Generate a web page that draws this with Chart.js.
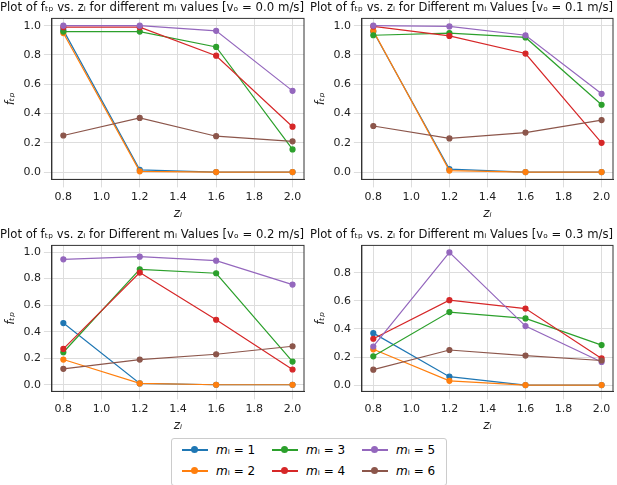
<!DOCTYPE html>
<html><head><meta charset="utf-8">
<script src="https://cdn.jsdelivr.net/npm/chart.js@4.4.0/dist/chart.umd.min.js"></script>
<style>
body{margin:0;background:#fff;width:617px;height:485px;position:relative;overflow:hidden;font-family:"DejaVu Sans";}
.c{position:absolute;}
#legend{position:absolute;left:171px;top:438px;width:274px;height:46px;border:1px solid #ccc;border-radius:3px;font-size:12px;}
.it{position:absolute;display:flex;align-items:center;}
.sw{width:26px;height:2px;position:relative;margin-right:8px;}
.sw i{position:absolute;left:9px;top:-3px;width:7px;height:7px;border-radius:50%;}
</style></head><body>
<div class="c" style="left:0;top:0;width:310px;height:225px"><canvas id="c0"></canvas></div>
<div class="c" style="left:310px;top:0;width:307px;height:225px"><canvas id="c1"></canvas></div>
<div class="c" style="left:0;top:227px;width:310px;height:210px"><canvas id="c2"></canvas></div>
<div class="c" style="left:310px;top:227px;width:307px;height:210px"><canvas id="c3"></canvas></div>
<div id="legend"></div>
<script>
const zi=[0.8,1.2,1.6,2.0];
const xTicks=[0.8,1.0,1.2,1.4,1.6,1.8,2.0];
const labels=['m\u1D62 = 1','m\u1D62 = 2','m\u1D62 = 3','m\u1D62 = 4','m\u1D62 = 5','m\u1D62 = 6'];
const colors=['#1f77b4','#ff7f0e','#2ca02c','#d62728','#9467bd','#8c564b'];
const v00=[[0.97,0.015,0,0],[0.95,0.005,0,0],[0.96,0.96,0.855,0.155],[0.99,0.99,0.795,0.31],[1.0,1.0,0.965,0.555],[0.25,0.37,0.245,0.21]];
const v01=[[0.96,0.02,0,0],[0.965,0.01,0,0],[0.935,0.95,0.92,0.46],[0.995,0.93,0.81,0.2],[1.0,0.995,0.935,0.535],[0.315,0.23,0.27,0.355]];
const v02=[[0.465,0.01,0,0],[0.19,0.01,0,0],[0.245,0.87,0.84,0.175],[0.27,0.845,0.49,0.115],[0.945,0.965,0.935,0.755],[0.12,0.19,0.23,0.29]];
const v03=[[0.37,0.06,0,0],[0.255,0.03,0,0],[0.205,0.52,0.475,0.285],[0.33,0.605,0.545,0.19],[0.275,0.945,0.42,0.165],[0.11,0.25,0.21,0.175]];
const titles=['Plot of f\u209C\u209A vs. z\u1D62 for different m\u1D62 values [v\u2092 = 0.0 m/s]',
'Plot of f\u209C\u209A vs. z\u1D62 for Different m\u1D62 Values [v\u2092 = 0.1 m/s]',
'Plot of f\u209C\u209A vs. z\u1D62 for Different m\u1D62 Values [v\u2092 = 0.2 m/s]',
'Plot of f\u209C\u209A vs. z\u1D62 for Different m\u1D62 Values [v\u2092 = 0.3 m/s]'];
const yr=[[-0.05,1.05],[-0.05,1.05],[-0.05,1.05],[-0.045,0.995]];
const yTicks=[[0,0.2,0.4,0.6,0.8,1.0],[0,0.2,0.4,0.6,0.8,1.0],[0,0.2,0.4,0.6,0.8,1.0],[0,0.2,0.4,0.6,0.8]];
const all=[v00,v01,v02,v03];
Chart.defaults.font.family='DejaVu Sans';
Chart.defaults.color='#222';
const frame={id:'frame',afterDraw(c){const a=c.chartArea,x=c.ctx;x.save();x.strokeStyle='#333';x.lineWidth=1;x.strokeRect(a.left,a.top,a.right-a.left,a.bottom-a.top);x.restore();}};
all.forEach((d,k)=>{
 new Chart(document.getElementById('c'+k),{type:'line',plugins:[frame],
 data:{datasets:d.map((s,i)=>({label:labels[i],order:6-i,data:s.map((y,j)=>({x:zi[j],y:y})),borderColor:colors[i],backgroundColor:colors[i],borderWidth:1.2,pointRadius:2.5,pointHoverRadius:2.5}))},
 options:{responsive:true,maintainAspectRatio:false,animation:false,
  layout:{padding:{right:k%2?4:6,left:0,top:0}},
  plugins:{legend:{display:false},tooltip:{enabled:false},title:{display:true,text:titles[k],font:{size:12,weight:'normal'},color:'#111',padding:{top:1,bottom:3},align:k%2?'start':'center'}},
  scales:{x:{type:'linear',min:0.74,max:2.06,afterBuildTicks:a=>{a.ticks=xTicks.map(v=>({value:v}))},
    ticks:{font:{size:11},color:'#222',maxRotation:0,callback:v=>v.toFixed(1)},
    grid:{color:'#ddd'},border:{color:'#333'},title:{display:true,text:'z\u1D62',font:{size:12,style:'italic'},padding:{top:0}}},
   y:{min:yr[k][0],max:yr[k][1],afterBuildTicks:a=>{a.ticks=yTicks[k].map(v=>({value:v}))},
    ticks:{font:{size:11},color:'#222',callback:v=>v.toFixed(1)},
    grid:{color:'#ddd'},border:{color:'#333'},title:{display:true,text:'f\u209C\u209A',font:{size:12,style:'italic'},padding:{bottom:2}}}}}});
});
const lg=document.getElementById('legend');
labels.forEach((l,i)=>{const col=Math.floor(i/2),row=i%2;
 const e=document.createElement('div');e.className='it';e.style.left=(10+col*90)+'px';e.style.top=(4+row*21)+'px';
 e.innerHTML='<span class="sw" style="background:'+colors[i]+'"><i style="background:'+colors[i]+'"></i></span><span style="font-style:italic">m</span><span>\u1D62 = '+(i+1)+'</span>';
 lg.appendChild(e);});
</script></body></html>
